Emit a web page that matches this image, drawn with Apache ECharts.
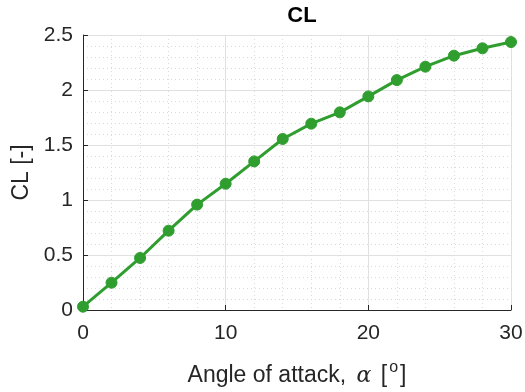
<!DOCTYPE html>
<html>
<head>
<meta charset="utf-8">
<script src="https://cdn.jsdelivr.net/npm/echarts@6/dist/echarts.min.js"></script>
<style>html,body{margin:0;padding:0;background:#fff}#c{width:525px;height:392px}</style>
</head>
<body>
<div id="c"></div>
<script>
const alpha = [0, 2, 4, 6, 8, 10, 12, 14, 16, 18, 20, 22, 24, 26, 28, 30];
const cl = [0.03, 0.248, 0.473, 0.721, 0.958, 1.148, 1.351, 1.555, 1.694, 1.797, 1.942, 2.09, 2.212, 2.312, 2.379, 2.436];
const xTicks = [0, 10, 20, 30];
const yTicks = [0, 0.5, 1, 1.5, 2, 2.5];

const chart = echarts.init(document.getElementById('c'), null, {renderer: 'canvas'});
const font = 'Liberation Sans, Arial, Helvetica, sans-serif';
const txt = '#262626';
chart.setOption({
  animation: false,
  backgroundColor: '#fff',
  title: {
    text: 'CL', left: 297, top: 0, textAlign: 'center',
    textStyle: {fontFamily: font, fontWeight: 'bold', fontSize: 22, color: '#000'}
  },
  grid: {left: 83, right: 14, top: 35, bottom: 82, containLabel: false, outerBoundsMode: 'none'},
  xAxis: {
    type: 'value', min: xTicks[0], max: xTicks[xTicks.length - 1], interval: 10,
    axisLine: {show: true, onZero: false, lineStyle: {color: txt, width: 1}},
    axisTick: {show: true, inside: true, length: 5, lineStyle: {color: txt}},
    axisLabel: {fontFamily: font, fontSize: 21, color: txt, margin: 13},
    splitLine: {show: true, lineStyle: {color: '#e0e0e0', width: 1}},
    minorTick: {show: false, splitNumber: 5},
    minorSplitLine: {show: true, lineStyle: {color: '#dadada', type: [1, 3], width: 1}},
    name: '{n|Angle of attack, }{a|α}{n| [}{s|o}{n|]}',
    nameLocation: 'middle', nameGap: 50,
    nameTextStyle: {
      rich: {
        n: {fontFamily: font, fontSize: 23, color: txt},
        a: {fontFamily: 'DejaVu Serif, Liberation Serif, serif', fontStyle: 'italic', fontSize: 22, color: txt, padding: [0, 3, 0, 4]},
        s: {fontFamily: font, fontSize: 16, color: txt, padding: [0, 2, 16, 2]}
      }
    }
  },
  yAxis: {
    type: 'value', min: yTicks[0], max: yTicks[yTicks.length - 1], interval: 0.5,
    axisLine: {show: true, lineStyle: {color: txt, width: 1}},
    axisTick: {show: true, inside: true, length: 5, lineStyle: {color: txt}},
    axisLabel: {fontFamily: font, fontSize: 21, color: txt, margin: 10},
    splitLine: {show: true, lineStyle: {color: '#e0e0e0', width: 1}},
    minorTick: {show: false, splitNumber: 5},
    minorSplitLine: {show: true, lineStyle: {color: '#dadada', type: [1, 3], width: 1}},
    name: 'CL [-]', nameLocation: 'middle', nameGap: 46, nameRotate: 90,
    nameTextStyle: {fontFamily: font, fontSize: 23, color: txt}
  },
  series: [{
    type: 'line',
    data: alpha.map((a, i) => [a, cl[i]]),
    symbol: 'circle', symbolSize: 11, showSymbol: true,
    lineStyle: {color: '#2f9e2f', width: 3},
    itemStyle: {color: '#2f9e2f', borderColor: '#2f9e2f', borderWidth: 1},
    clip: false
  }]
});
</script>
</body>
</html>
